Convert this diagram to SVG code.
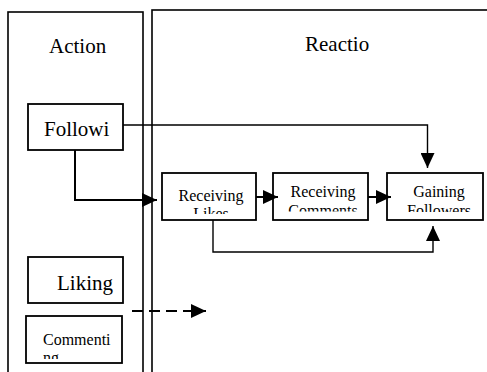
<svg xmlns="http://www.w3.org/2000/svg" width="487" height="372" viewBox="0 0 487 372">
<style>
.frame{fill:none;stroke:#000;stroke-width:1.6}
.box{fill:#fff;stroke:#000;stroke-width:1.8}
.big{font-family:"Liberation Serif","Times New Roman",serif;font-size:21px;fill:#000}
.small{font-family:"Liberation Serif","Times New Roman",serif;font-size:16px;fill:#000}
.conn{fill:none;stroke:#000;stroke-width:2}
.thin{stroke-width:1.4}
.dash{stroke-dasharray:11 6}
</style>
<defs>
<marker id="ah" markerUnits="userSpaceOnUse" viewBox="0 0 15 14" markerWidth="15" markerHeight="14" refX="15" refY="7" orient="auto">
<path d="M0,0 L15,7 L0,14 Z" fill="#000"/>
</marker>
<clipPath id="cLikes"><rect x="160" y="172" width="98" height="42"/></clipPath>
<clipPath id="cComments"><rect x="272" y="172" width="98" height="39.5"/></clipPath>
<clipPath id="cGaining"><rect x="386" y="172" width="98" height="40"/></clipPath>
<clipPath id="cCommenting"><rect x="25" y="315" width="98" height="44"/></clipPath>
</defs>
<g id="action-lane">
<rect class="frame" x="8" y="12" width="135" height="380"/>
<text class="big" x="49" y="53">Action</text>
</g>
<g id="reaction-lane">
<rect class="frame" x="152" y="10" width="360" height="380"/>
<text class="big" x="305" y="51">Reactio</text>
</g>
<g id="following">
<rect class="box" x="28" y="104" width="95" height="46"/>
<text class="big" x="44" y="136">Followi</text>
</g>
<g id="liking">
<rect class="box" x="28" y="257" width="95" height="46"/>
<text class="big" x="57" y="290">Liking</text>
</g>
<g id="commenting">
<rect class="box" x="26" y="316" width="96" height="47"/>
<g clip-path="url(#cCommenting)">
<text class="small" x="43" y="345">Commenti</text>
<text class="small" x="43" y="363">ng</text>
</g>
</g>
<g id="receiving-likes">
<rect class="box" x="162" y="173" width="94" height="47"/>
<g clip-path="url(#cLikes)" text-anchor="middle">
<text class="small" x="211" y="201">Receiving</text>
<text class="small" x="211" y="219">Likes</text>
</g>
</g>
<g id="receiving-comments">
<rect class="box" x="273" y="173" width="95" height="47"/>
<g clip-path="url(#cComments)" text-anchor="middle">
<text class="small" x="323" y="197">Receiving</text>
<text class="small" x="323" y="216">Comments</text>
</g>
</g>
<g id="gaining-followers">
<rect class="box" x="387" y="173" width="96" height="47"/>
<g clip-path="url(#cGaining)" text-anchor="middle">
<text class="small" x="439" y="197">Gaining</text>
<text class="small" x="439" y="216">Followers</text>
</g>
</g>
<g id="connectors">
<path class="conn thin" d="M123,125 H427.5 V168" marker-end="url(#ah)"/>
<path class="conn" d="M75,150 V200 H157" marker-end="url(#ah)"/>
<path class="conn" d="M256,197 H278" marker-end="url(#ah)"/>
<path class="conn" d="M368,197 H391" marker-end="url(#ah)"/>
<path class="conn thin" d="M213,220 V252 H433 V226" marker-end="url(#ah)"/>
<path class="conn dash" d="M132,311 H206" marker-end="url(#ah)"/>
</g>
</svg>
